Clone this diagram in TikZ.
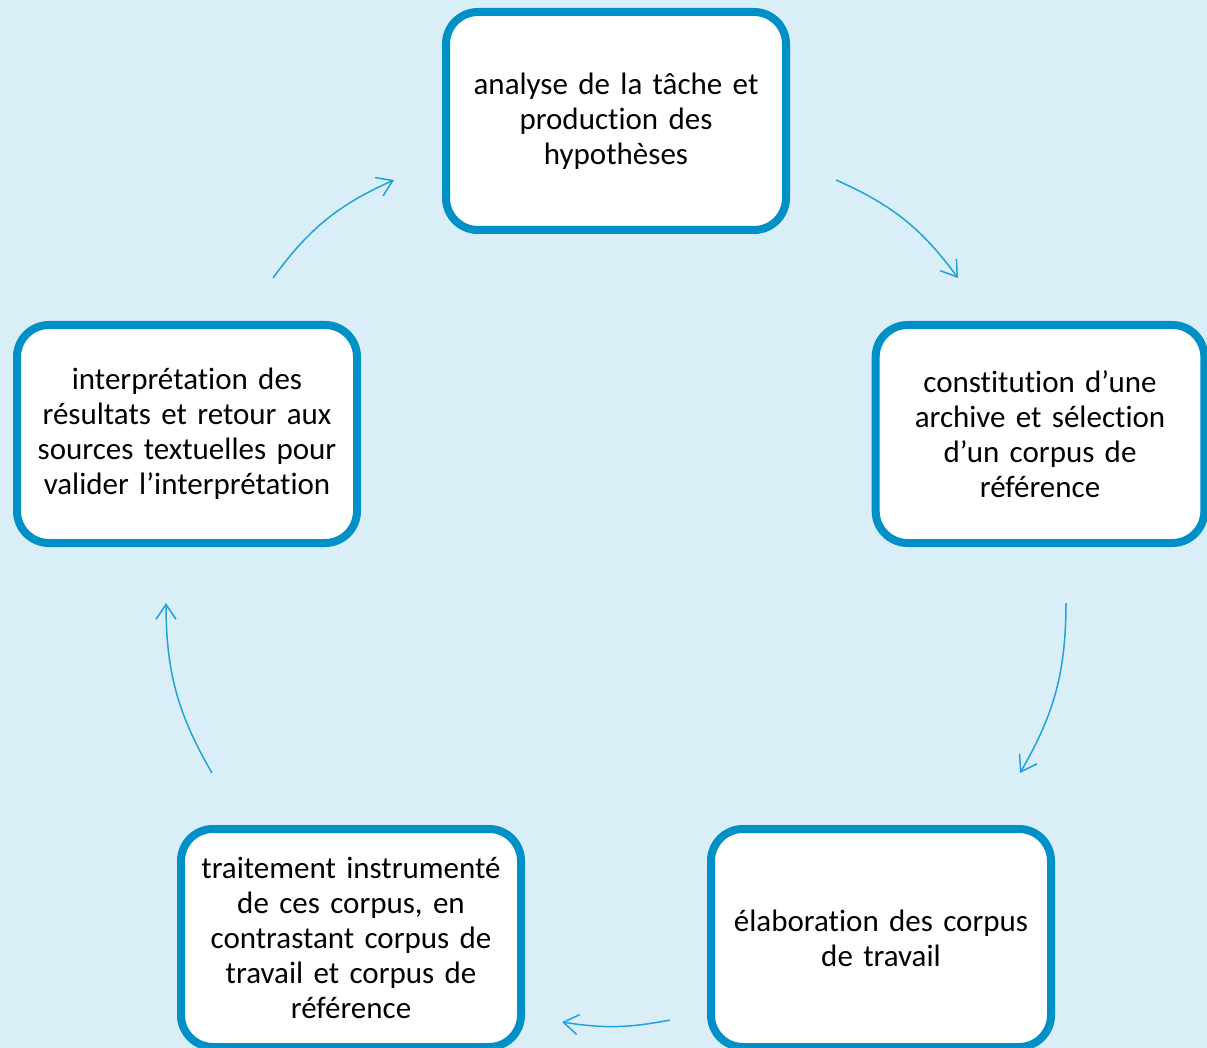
\documentclass[tikz,border=0pt]{standalone}
\usepackage{fontspec}
\setmainfont{Carlito}[Ligatures=NoCommon]
\usetikzlibrary{arrows.meta,positioning,calc}
\definecolor{fond}{HTML}{DAEEF7}
\definecolor{bord}{HTML}{0090C8}
\definecolor{fleche}{HTML}{1FA3DC}

\begin{document}
\begin{tikzpicture}[x=1pt, y=-1pt, >={Straight Barb[length=15pt,width=20pt]}, node distance=530pt]
\tikzstyle{etape}=[draw=bord, line width=8pt, fill=white, rounded corners=32pt, minimum width=340pt, minimum height=218pt, text width=322pt, align=center, text=black, font=\fontsize{31}{35}\selectfont]
\tikzstyle{cycle}=[->, draw=fleche, line width=1.5pt, bend left=15]
\fill[fond] (0,0) rectangle (1207,1048);
\useasboundingbox (0,0) rectangle (1207,1048);

\node[etape]    (analyse)         at (616,121)   {analyse de la tâche et\\production des\\hypothèses};
\node[etape, minimum width=327pt] (archive) at (1040,434) {constitution d’une\\archive et sélection\\d’un corpus de\\référence};
\node[etape]    (traitement)      at (351,938)   {traitement instrumenté\\de ces corpus, en\\contrastant corpus de\\travail et corpus de\\référence};
\node[etape]    (elaboration)[right of=traitement] {élaboration des corpus\\de travail};
\node[etape]    (interpretation)  at (187,434)   {interprétation des\\résultats et retour aux\\sources textuelles pour\\valider l’interprétation};

\coordinate (a1) at (836,180);  \coordinate (b1) at (958,278);
\coordinate (a2) at (1066,603); \coordinate (b2) at (1020,773);
\coordinate (a3) at (670,1020); \coordinate (b3) at (562,1022);
\coordinate (a4) at (212,773);  \coordinate (b4) at (166,603);
\coordinate (a5) at (273,278);  \coordinate (b5) at (394,180);

\draw[cycle] (a1) to (b1);
\draw[cycle] (a2) to (b2);
\draw[cycle, bend left=10] (a3) to (b3);
\draw[cycle] (a4) to (b4);
\draw[cycle] (a5) to (b5);

\end{tikzpicture}
\end{document}
